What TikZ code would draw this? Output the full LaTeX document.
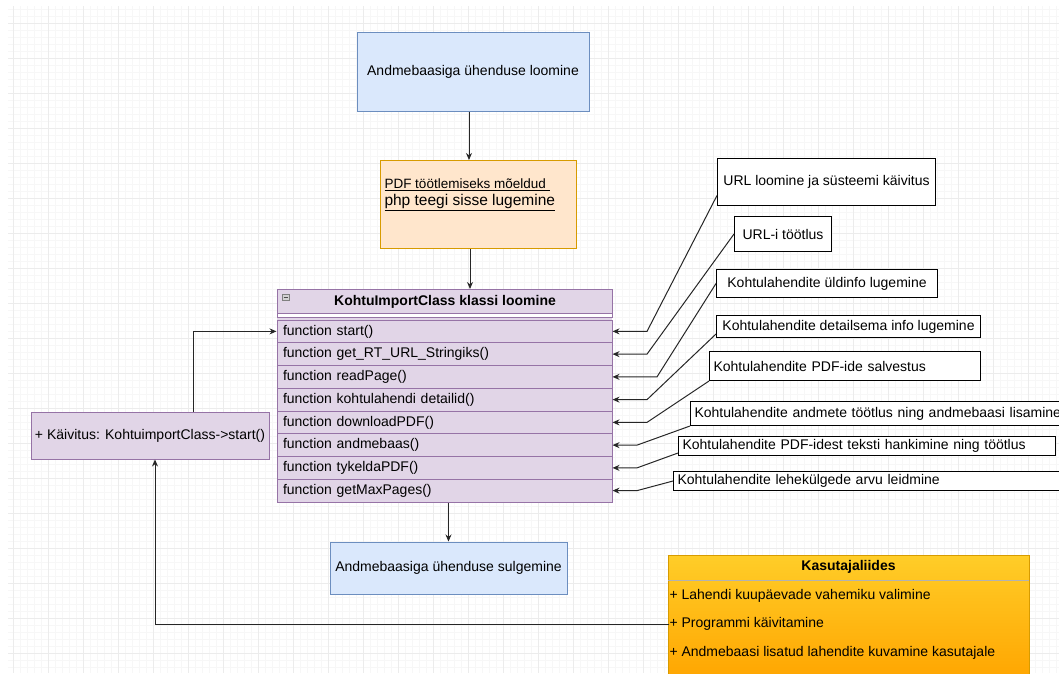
\documentclass[tikz,border=0pt]{standalone}
\usepackage{fontspec}
\setmainfont{Liberation Sans}
\usetikzlibrary{arrows.meta}

\definecolor{blueFill}{HTML}{DAE8FC}
\definecolor{blueLine}{HTML}{6C8EBF}
\definecolor{orangeFill}{HTML}{FFE6CC}
\definecolor{orangeLine}{HTML}{D79B00}
\definecolor{purpleFill}{HTML}{E1D5E7}
\definecolor{purpleLine}{HTML}{9673A6}
\definecolor{uiTop}{HTML}{FFCD28}
\definecolor{uiBottom}{HTML}{FFA500}
\definecolor{gridMinor}{HTML}{F7F7F7}
\definecolor{gridMajor}{HTML}{ECECEC}
\newcommand{\boxfont}{\fontsize{14}{17}\selectfont}

\begin{document}
\begin{tikzpicture}[x=1pt, y=-1pt, line width=1pt,
	every node/.style={font=\boxfont, inner sep=0pt},
	flow/.style={draw=black!85, -{Stealth[length=7pt,width=6pt]}},
	bluebox/.style={draw=blueLine, fill=blueFill},
	orangebox/.style={draw=orangeLine, fill=orangeFill},
	purplebox/.style={draw=purpleLine, fill=purpleFill},
	rowbox/.style={minimum height=22.75, text width=323, inner xsep=6, align=left},
	notebox/.style={draw=black, fill=white, anchor=north west},
	leftnote/.style={notebox, inner xsep=4, align=left}]
	\useasboundingbox (0,0) rectangle (1059,673);
	\clip (0,0) rectangle (1059,673);
	% background grid
	\foreach \gx in {13,20,...,1059} \draw[gridMinor, line width=0.6pt] (\gx,6) -- (\gx,673);
	\foreach \gy in {9,16,...,673} \draw[gridMinor, line width=0.6pt] (8,\gy) -- (1059,\gy);
	\foreach \gx in {13,48,...,1059} \draw[gridMajor, line width=0.6pt] (\gx,6) -- (\gx,673);
	\foreach \gy in {23,58,...,673} \draw[gridMajor, line width=0.6pt] (8,\gy) -- (1059,\gy);

	% main flow
	\node[bluebox, minimum width=232, minimum height=79] (open) at (473,71.5) {Andmebaasiga ühenduse loomine};
	\node[orangebox, minimum width=196, minimum height=88, anchor=north west] (pdf) at (380,160) {};
	\node[anchor=north west, align=left] (pdftxt) at (384,178) {{\fontsize{13.5}{18}\selectfont\underline{PDF töötlemiseks mõeldud\ }}\\{\fontsize{15.5}{18}\selectfont\underline{php teegi sisse lugemine}}};

	% class box
	\node[purplebox, minimum width=335, minimum height=24, anchor=north west, font=\boxfont\bfseries] (clsHead) at (277,289) {KohtuImportClass klassi loomine};
	\fill[purpleFill] (277,313) rectangle (612,320);
	\draw[purpleLine, fill=white] (277,313) rectangle (612,317);
	\draw[gray, fill=gray!35, line width=0.6pt] (282,294) rectangle (289,300);
	\draw[black!70, line width=0.6pt] (283.5,297) -- (287.5,297);
	\foreach \nm/\lbl [count=\i] in {fstart/start(), furl/get\_RT\_URL\_Stringiks(), fread/readPage(), fdetail/kohtulahendi detailid(), fpdf/downloadPDF(), fdb/andmebaas(), ftykel/tykeldaPDF(), fmax/getMaxPages()}
		\node[purplebox, rowbox] (\nm) at (444.5,{308.625+22.75*\i}) {function \lbl};

	\node[bluebox, minimum width=237, minimum height=52] (close) at (448.5,568) {Andmebaasiga ühenduse sulgemine};
	\node[purplebox, minimum width=238, minimum height=47] (launch) at (150,435.5) {+ Käivitus: KohtuimportClass->start()};

	% notes on the right
	\node[notebox, minimum width=218, minimum height=47] (url) at (717,158) {URL loomine ja süsteemi käivitus};
	\node[notebox, minimum width=97, minimum height=35] (urli) at (734,216) {URL-i töötlus};
	\node[notebox, minimum width=221, minimum height=28] (uld) at (716,269) {Kohtulahendite üldinfo lugemine};
	\node[notebox, minimum width=264, minimum height=22] (det) at (716,315) {Kohtulahendite detailsema info lugemine};
	\node[leftnote, text width=263, minimum height=29] (salv) at (709,351) {Kohtulahendite PDF-ide salvestus};
	\node[leftnote, text width=402, minimum height=24] (andm) at (690,401) {Kohtulahendite andmete töötlus ning andmebaasi lisamine};
	\node[leftnote, text width=369, minimum height=19] (teksti) at (678,436) {Kohtulahendite PDF-idest teksti hankimine ning töötlus};
	\node[leftnote, text width=419, minimum height=19] (leht) at (673,471) {Kohtulahendite lehekülgede arvu leidmine};

	% user interface
	\node[draw=orangeLine, top color=uiTop, bottom color=uiBottom, minimum width=361, minimum height=125, anchor=north west] (ui) at (668,555) {};
	\node[font=\boxfont\bfseries] (uiHead) at (848.5,567) {Kasutajaliides};
	\draw[black!30] (668,580) -- (1029,580);
	\node[anchor=west] (uiSel) at (669,596) {+ Lahendi kuupäevade vahemiku valimine};
	\node[anchor=west] (uiRun) at (669,624) {+ Programmi käivitamine};
	\node[anchor=west] (uiShow) at (669,653) {+ Andmebaasi lisatud lahendite kuvamine kasutajale};

	% connectors
	\draw[flow] (469,0 |- open.south) -- (469,0 |- pdf.north);
	\draw[flow] (470,0 |- pdf.south) -- (470,0 |- clsHead.north);
	\draw[flow] (close.north |- fmax.south) -- (close.north);
	\draw[flow] ([xshift=43]launch.north) |- (fstart.west);
	\draw[flow] (uiRun.west) -| ([xshift=5]launch.south);
	\draw[flow] ([yshift=-13.5]url.west) -- (647,0 |- fstart.east) -- (fstart.east);
	\draw[flow] (urli.west) -- (647,0 |- furl.east) -- (furl.east);
	\draw[flow] (uld.west) -- (657,0 |- fread.east) -- (fread.east);
	\draw[flow] ([yshift=4]det.south west) -- (647,0 |- fdetail.east) -- (fdetail.east);
	\draw[flow] (salv.south west) -- (647,0 |- fpdf.east) -- (fpdf.east);
	\draw[flow] (andm.south west) -- (637,0 |- fdb.east) -- (fdb.east);
	\draw[flow] ([yshift=3]teksti.south west) -- (637,0 |- ftykel.east) -- (ftykel.east);
	\draw[flow] (leht.west) -- (637,0 |- fmax.east) -- (fmax.east);
\end{tikzpicture}
\end{document}
